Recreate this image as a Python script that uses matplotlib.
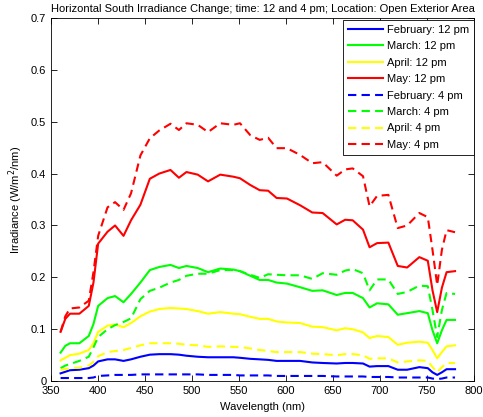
import matplotlib
matplotlib.use("Agg")
import matplotlib.pyplot as plt

plt.rcParams['font.family'] = ['Liberation Sans', 'DejaVu Sans']
plt.rcParams['font.size'] = 8

# Wavelength grid (nm)
wl = [360, 365, 370, 380, 390, 395, 400, 410, 418, 427, 435, 445, 455, 465,
      477, 486, 494, 506, 517, 530, 544, 551, 562, 572, 581, 590, 601, 615,
      628, 639, 654, 663, 671, 682, 689, 697, 709, 719, 729, 742, 751, 756,
      761, 766, 771, 780]

feb_12 = [0.015, 0.018, 0.021, 0.022, 0.025, 0.030, 0.038, 0.042, 0.042, 0.039,
          0.042, 0.047, 0.051, 0.052, 0.052, 0.051, 0.049, 0.047, 0.046, 0.046,
          0.046, 0.045, 0.043, 0.042, 0.041, 0.039, 0.039, 0.039, 0.036, 0.035,
          0.034, 0.035, 0.035, 0.034, 0.028, 0.029, 0.029, 0.022, 0.022, 0.027,
          0.025, 0.017, 0.012, 0.017, 0.023, 0.023]
mar_12 = [0.055, 0.068, 0.073, 0.073, 0.087, 0.110, 0.145, 0.160, 0.164, 0.152,
          0.168, 0.190, 0.214, 0.220, 0.224, 0.218, 0.222, 0.218, 0.210, 0.217,
          0.215, 0.212, 0.203, 0.195, 0.195, 0.190, 0.188, 0.181, 0.174, 0.175,
          0.166, 0.170, 0.170, 0.160, 0.142, 0.150, 0.148, 0.128, 0.131, 0.135,
          0.131, 0.098, 0.073, 0.098, 0.118, 0.118]
apr_12 = [0.040, 0.045, 0.050, 0.053, 0.060, 0.073, 0.095, 0.107, 0.109, 0.104,
          0.112, 0.125, 0.134, 0.139, 0.141, 0.140, 0.139, 0.135, 0.130, 0.133,
          0.130, 0.129, 0.124, 0.120, 0.120, 0.115, 0.113, 0.112, 0.105, 0.104,
          0.098, 0.102, 0.100, 0.094, 0.083, 0.087, 0.085, 0.070, 0.074, 0.076,
          0.074, 0.060, 0.044, 0.056, 0.067, 0.069]
may_12 = [0.095, 0.120, 0.130, 0.130, 0.145, 0.190, 0.265, 0.288, 0.300, 0.280,
          0.310, 0.340, 0.390, 0.400, 0.407, 0.392, 0.403, 0.398, 0.385, 0.398,
          0.394, 0.391, 0.378, 0.368, 0.367, 0.353, 0.352, 0.339, 0.325, 0.324,
          0.302, 0.311, 0.310, 0.292, 0.258, 0.266, 0.267, 0.222, 0.219, 0.239,
          0.232, 0.175, 0.133, 0.180, 0.210, 0.212]
feb_4 = [0.006, 0.006, 0.006, 0.006, 0.006, 0.007, 0.010, 0.011, 0.012, 0.012,
         0.012, 0.013, 0.013, 0.013, 0.013, 0.013, 0.013, 0.013, 0.012, 0.012,
         0.012, 0.011, 0.011, 0.011, 0.011, 0.010, 0.010, 0.010, 0.010, 0.010,
         0.009, 0.009, 0.009, 0.009, 0.008, 0.008, 0.008, 0.007, 0.007, 0.007,
         0.007, 0.005, 0.004, 0.005, 0.007, 0.007]
mar_4 = [0.025, 0.030, 0.033, 0.039, 0.047, 0.065, 0.085, 0.100, 0.108, 0.114,
         0.121, 0.158, 0.174, 0.180, 0.190, 0.195, 0.203, 0.207, 0.207, 0.214,
         0.214, 0.212, 0.205, 0.199, 0.206, 0.205, 0.204, 0.204, 0.197, 0.208,
         0.205, 0.213, 0.216, 0.208, 0.175, 0.196, 0.196, 0.168, 0.172, 0.184,
         0.183, 0.137, 0.085, 0.137, 0.170, 0.168]
apr_4 = [0.022, 0.023, 0.025, 0.026, 0.030, 0.037, 0.048, 0.056, 0.058, 0.060,
         0.064, 0.069, 0.073, 0.073, 0.073, 0.072, 0.070, 0.069, 0.066, 0.067,
         0.066, 0.066, 0.063, 0.060, 0.058, 0.056, 0.056, 0.056, 0.053, 0.052,
         0.050, 0.052, 0.052, 0.050, 0.043, 0.044, 0.044, 0.036, 0.038, 0.040,
         0.039, 0.027, 0.017, 0.027, 0.035, 0.035]
may_4 = [0.095, 0.125, 0.140, 0.142, 0.155, 0.210, 0.280, 0.335, 0.345, 0.330,
         0.362, 0.435, 0.468, 0.483, 0.496, 0.484, 0.497, 0.494, 0.480, 0.497,
         0.494, 0.497, 0.474, 0.465, 0.469, 0.449, 0.449, 0.436, 0.420, 0.422,
         0.396, 0.408, 0.410, 0.395, 0.337, 0.357, 0.359, 0.295, 0.300, 0.324,
         0.316, 0.253, 0.185, 0.253, 0.291, 0.287]

series = [
    ("February: 12 pm", feb_12, "#0000ff", "-"),
    ("March: 12 pm", mar_12, "#00ff00", "-"),
    ("April: 12 pm", apr_12, "#ffff00", "-"),
    ("May: 12 pm", may_12, "#ff0000", "-"),
    ("February: 4 pm", feb_4, "#0000ff", "--"),
    ("March: 4 pm", mar_4, "#00ff00", "--"),
    ("April: 4 pm", apr_4, "#ffff00", "--"),
    ("May: 4 pm", may_4, "#ff0000", "--"),
]

fig = plt.figure(figsize=(4.83, 4.17), dpi=100)
ax = fig.add_axes([0.106, 0.086, 0.875, 0.871])

for label, vals, color, ls in series:
    line, = ax.plot(wl, vals, color=color, linestyle=ls, lw=1.5, label=label)
    if ls == "--":
        line.set_dashes((4, 2.5))

ax.set_xlim(350, 800)
ax.set_ylim(0, 0.7)
ax.set_xticks(range(350, 801, 50))
ax.set_yticks([0, 0.1, 0.2, 0.3, 0.4, 0.5, 0.6, 0.7])
ax.set_yticklabels(["0", "0.1", "0.2", "0.3", "0.4", "0.5", "0.6", "0.7"])
ax.tick_params(direction="in", top=True, right=True, length=4, width=0.6)
for sp in ax.spines.values():
    sp.set_linewidth(0.6)

ax.set_title("Horizontal South Irradiance Change; time: 12 and 4 pm; Location: Open Exterior Area",
             fontsize=8, pad=4)
ax.set_xlabel("Wavelength (nm)")
ax.set_ylabel("Irradiance (W/m$^2$/nm)")

leg = ax.legend(loc="upper right", bbox_to_anchor=(1.0, 0.995), borderaxespad=0,
                fancybox=False, edgecolor="black", framealpha=1,
                handlelength=3.2, handletextpad=0.3, labelspacing=0.58,
                borderpad=0.45)
leg.get_frame().set_linewidth(0.6)

fig.savefig("out.png", dpi=100)
